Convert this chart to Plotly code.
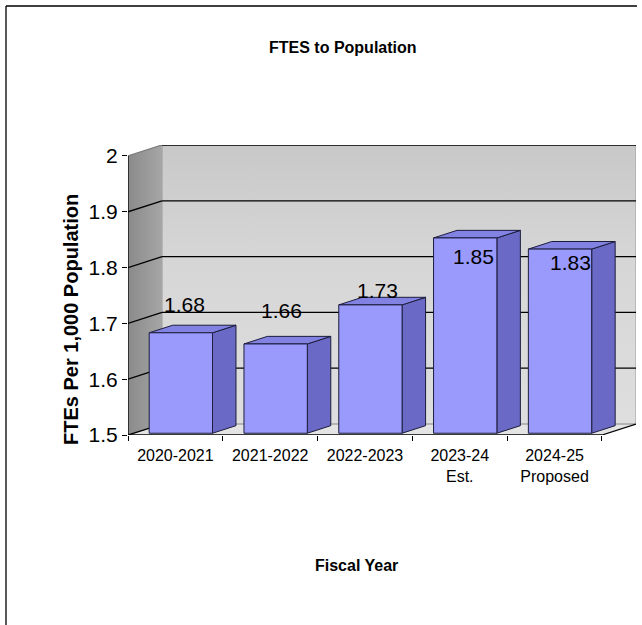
import plotly.graph_objects as go

# ---- data ----
categories = ["2020-2021", "2021-2022", "2022-2023", "2023-24<br>Est.", "2024-25<br>Proposed"]
ftes_per_1000 = [1.68, 1.66, 1.73, 1.85, 1.83]
value_labels = ["1.68", "1.66", "1.73", "1.85", "1.83"]
y_tick_vals = [1.5, 1.6, 1.7, 1.8, 1.9, 2.0]
y_tick_text = ["1.5", "1.6", "1.7", "1.8", "1.9", "2"]

# ---- pseudo-3D geometry (in axis units) ----
Y_MIN, Y_MAX = 1.5, 2.0
DEPTH_X = 0.359      # shift of the back wall along x (category units)
DEPTH_Y = 0.0197     # shift of the back wall along y (value units)
BAR_HALF = 0.334     # half width of a bar's front face
BAR_D0, BAR_D1 = 0.16, 0.85   # bar depth span, as fraction of floor depth
n = len(categories)
X_LO, X_HI = -0.5, n - 0.5

# figure frame in pixels
W, H = 642, 625
ML, MR, MT, MB = 128, 6, 145, 190
PW, PH = W - ML - MR, H - MT - MB

FONT = "Liberation Sans, Arial, sans-serif"
EDGE = "#1c1c3c"


def proj(x, y, d):
    """Project a point at depth d (0 = front, 1 = back wall) onto the axes."""
    return x + d * DEPTH_X, y + d * DEPTH_Y


def poly(points, fill, line_color=None, line_width=0, gradient=None):
    xs, ys = zip(*[proj(*p) for p in points])
    xs, ys = list(xs) + [xs[0]], list(ys) + [ys[0]]
    kw = dict(fillcolor=fill)
    if gradient is not None:
        kw = dict(fillgradient=gradient)
    return go.Scatter(x=xs, y=ys, mode="lines", fill="toself",
                      line=dict(color=line_color or fill, width=line_width),
                      hoverinfo="skip", showlegend=False, **kw)


def seg(points, color="black", width=1.3):
    xs, ys = zip(*[proj(*p) for p in points])
    return go.Scatter(x=list(xs), y=list(ys), mode="lines",
                      line=dict(color=color, width=width),
                      hoverinfo="skip", showlegend=False)


traces = []

# walls and floor
traces.append(poly([(X_LO, Y_MIN, 0), (X_HI, Y_MIN, 0), (X_HI, Y_MIN, 1), (X_LO, Y_MIN, 1)],
                   "#e4e4e4"))
traces.append(poly([(X_LO, Y_MIN, 1), (X_HI, Y_MIN, 1), (X_HI, Y_MAX, 1), (X_LO, Y_MAX, 1)],
                   "#d2d2d2", "#9a9a9a", 1,
                   gradient=dict(type="vertical",
                                 colorscale=[[0, "#dedede"], [0.6, "#d6d6d6"], [1, "#c8c8c8"]])))
traces.append(poly([(X_LO, Y_MIN, 0), (X_LO, Y_MAX, 0), (X_LO, Y_MAX, 1), (X_LO, Y_MIN, 1)],
                   "#9a9a9a",
                   gradient=dict(type="horizontal",
                                 colorscale=[[0, "#8a8a8a"], [1, "#a6a6a6"]])))

# gridlines on the side wall and the back wall
for t in y_tick_vals:
    col = "black" if Y_MIN < t < Y_MAX else ("#7a7a7a" if t == Y_MAX else "#b0b0b0")
    traces.append(seg([(X_LO, t, 0), (X_LO, t, 1)], col, 1.3))
    traces.append(seg([(X_LO, t, 1), (X_HI, t, 1)], "black" if t > Y_MIN else "#b0b0b0", 1.3))

# front edges of the chart box
traces.append(seg([(X_LO, Y_MIN, 0), (X_LO, Y_MAX, 0)], "black", 1.3))
traces.append(seg([(X_LO, Y_MIN, 0), (X_LO, Y_MIN, 1)], "black", 1.3))
traces.append(seg([(X_LO, Y_MIN, 0), (X_HI, Y_MIN, 0)], "black", 1.3))
traces.append(seg([(X_HI, Y_MIN, 0), (X_HI, Y_MIN, 1)], "black", 1.3))

# bars
for i, v in enumerate(ftes_per_1000):
    l, r = i - BAR_HALF, i + BAR_HALF
    traces.append(poly([(r, Y_MIN, BAR_D0), (r, Y_MIN, BAR_D1), (r, v, BAR_D1), (r, v, BAR_D0)],
                       "#6a6ac6", EDGE, 1))
    traces.append(poly([(l, v, BAR_D0), (r, v, BAR_D0), (r, v, BAR_D1), (l, v, BAR_D1)],
                       "#8282e2", EDGE, 1))
    traces.append(poly([(l, Y_MIN, BAR_D0), (r, Y_MIN, BAR_D0), (r, v, BAR_D0), (l, v, BAR_D0)],
                       "#9a9afc", EDGE, 1))

fig = go.Figure(traces)

# value labels (placed the way the 3D view lays them out)
for i, (v, txt) in enumerate(zip(ftes_per_1000, value_labels)):
    fig.add_annotation(x=i + 0.1 + 0.016 * i, y=1.644 + 0.5 * (v - Y_MIN),
                       text=txt, showarrow=False, xanchor="center", yanchor="middle",
                       font=dict(family=FONT, size=21, color="black"))


def px_x(px):
    return (px - ML) / PW


def px_y(py):
    return (H - MB - py) / PH


# titles
fig.add_annotation(xref="paper", yref="paper", x=px_x(342.5), y=px_y(47),
                   xanchor="center", yanchor="middle",
                   text="<b>FTES to Population</b>", showarrow=False,
                   font=dict(family=FONT, size=16, color="black"))
fig.add_annotation(xref="paper", yref="paper", x=px_x(356), y=px_y(565),
                   xanchor="center", yanchor="middle",
                   text="<b>Fiscal Year</b>", showarrow=False,
                   font=dict(family=FONT, size=16, color="black"))
fig.add_annotation(xref="paper", yref="paper", x=px_x(71), y=px_y(320),
                   xanchor="center", yanchor="middle",
                   text="<b>FTEs Per 1,000 Population</b>", showarrow=False, textangle=-90,
                   font=dict(family=FONT, size=20, color="black"))

# outer frame (left and top edges)
fig.add_shape(type="line", xref="paper", yref="paper",
              x0=px_x(6), y0=px_y(6), x1=px_x(6), y1=px_y(H), line=dict(color="black", width=1.3))
fig.add_shape(type="line", xref="paper", yref="paper",
              x0=px_x(6), y0=px_y(6), x1=px_x(637), y1=px_y(6), line=dict(color="black", width=1.3))

fig.update_layout(
    width=W, height=H,
    margin=dict(l=ML, r=MR, t=MT, b=MB, autoexpand=False),
    paper_bgcolor="white", plot_bgcolor="white",
    showlegend=False,
    xaxis=dict(range=[X_LO, X_HI + DEPTH_X], showgrid=False, zeroline=False, showline=False,
               tickmode="array", tickvals=list(range(n)), ticktext=categories,
               ticks="", ticklen=5, ticklabelstandoff=9,
               tickfont=dict(family=FONT, size=16, color="black"),
               minor=dict(tickmode="array", tickvals=[X_LO + k for k in range(n + 1)],
                          ticks="outside", ticklen=5, tickcolor="black", tickwidth=1.3,
                          showgrid=False),
               fixedrange=True),
    yaxis=dict(range=[Y_MIN, Y_MAX + DEPTH_Y], showgrid=False, zeroline=False, showline=False,
               tickmode="array", tickvals=y_tick_vals, ticktext=y_tick_text,
               ticks="outside", ticklen=5, tickcolor="black", tickwidth=1.3,
               tickfont=dict(family=FONT, size=21, color="black"),
               fixedrange=True),
)

fig.write_html("out.html")
